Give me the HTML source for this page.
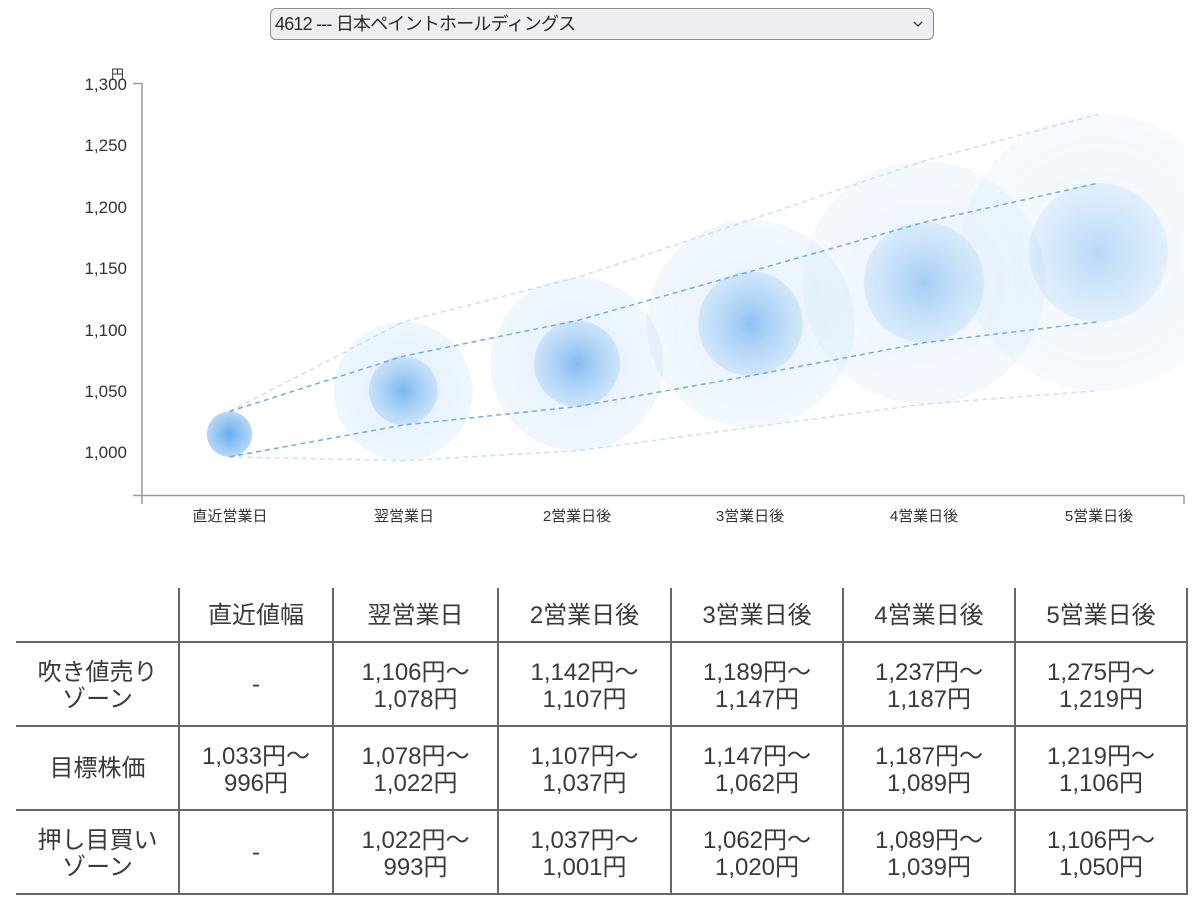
<!DOCTYPE html>
<html><head><meta charset="utf-8">
<style>
html,body{margin:0;padding:0;background:#fff;}
body{width:1200px;height:921px;position:relative;overflow:hidden;font-family:"Liberation Sans","Noto Sans CJK JP",sans-serif;color:#333;}
.sel{position:absolute;left:270px;top:8px;width:662px;height:30px;border:1px solid #8a8a8a;border-radius:6px;background:#efeff3;box-sizing:content-box;}
.sel span{position:absolute;left:4px;top:3px;font-size:18px;letter-spacing:-0.8px;line-height:24px;color:#2a2a2a;white-space:nowrap;}
.hl{position:absolute;left:16px;width:1172px;height:2px;background:#666;}
.vl{position:absolute;top:588px;width:2px;height:307px;background:#666;}
.c{position:absolute;text-align:center;font-size:24px;line-height:27px;color:#3a3a3a;white-space:nowrap;display:flex;align-items:center;justify-content:center;}
</style></head><body>
<div class="sel"><span>4612 --- 日本ペイントホールディングス</span>
<svg style="position:absolute;left:640px;top:10px" width="14" height="10"><polyline points="3,3 7,7 11,3" fill="none" stroke="#333" stroke-width="1.3"/></svg>
</div>

<svg style="position:absolute;left:0;top:0" width="1200" height="560" xmlns="http://www.w3.org/2000/svg">
<defs>
<radialGradient id="g0"><stop offset="0" stop-color="#62abef"/><stop offset="1" stop-color="#b2d5f6"/></radialGradient>
<radialGradient id="gi"><stop offset="0" stop-color="#5fa8ee" stop-opacity="0.8"/><stop offset="1" stop-color="#8cc2f4" stop-opacity="0.35"/></radialGradient>
<radialGradient id="go"><stop offset="0" stop-color="#9fcbf5" stop-opacity="0.32"/><stop offset="1" stop-color="#b5d8f8" stop-opacity="0.22"/></radialGradient>
<clipPath id="cp"><rect x="143" y="0" width="1041" height="495"/></clipPath>
</defs>
<g clip-path="url(#cp)">
<g opacity="1"><circle cx="403.3" cy="391.2" r="69.4" fill="url(#go)"/><circle cx="403.3" cy="390.6" r="34.4" fill="url(#gi)"/></g>
<g opacity="0.93"><circle cx="577" cy="364.2" r="86.6" fill="url(#go)"/><circle cx="577" cy="363.6" r="43" fill="url(#gi)"/></g>
<g opacity="0.84"><circle cx="750.5" cy="323.6" r="103.8" fill="url(#go)"/><circle cx="750.5" cy="323.6" r="52.2" fill="url(#gi)"/></g>
<g opacity="0.68"><circle cx="924" cy="282.5" r="121.6" fill="url(#go)"/><circle cx="924" cy="282.5" r="60.2" fill="url(#gi)"/></g>
<g opacity="0.52"><circle cx="1098.5" cy="252.4" r="138.2" fill="url(#go)"/><circle cx="1098.5" cy="252.4" r="69.4" fill="url(#gi)"/></g>
<circle cx="229.5" cy="434.2" r="22.7" fill="url(#g0)" opacity="0.95"/>
<g fill="none" stroke-width="1.5" stroke-dasharray="5 4">
<polyline stroke="#c6e0f8" points="229.5,411.5 403.3,321.8 577,277.6 750.5,219.9 924,160.9 1098.5,114.2"/>
<polyline stroke="#c6e0f8" points="229.5,456.9 403.3,460.6 577,450.8 750.5,427.4 924,404.1 1098.5,390.6"/>
<polyline stroke="#6eacf0" points="229.5,411.5 403.3,356.2 577,320.6 750.5,271.4 924,222.3 1098.5,183"/>
<polyline stroke="#6eacf0" points="229.5,456.9 403.3,425 577,406.6 750.5,375.8 924,342.7 1098.5,321.8"/>
</g>
</g>
<g stroke="#9a9a9a" stroke-width="1.5" fill="none">
<line x1="142" y1="83" x2="142" y2="504"/>
<line x1="133" y1="83.5" x2="142" y2="83.5"/>
<line x1="133" y1="495.5" x2="1184" y2="495.5"/>
<line x1="1184" y1="495.5" x2="1184" y2="504"/>
</g>
<g font-family="Liberation Sans, Noto Sans CJK JP, sans-serif" font-size="17" fill="#333" text-anchor="end">
<text x="127" y="458">1,000</text>
<text x="127" y="397">1,050</text>
<text x="127" y="336">1,100</text>
<text x="127" y="274">1,150</text>
<text x="127" y="213">1,200</text>
<text x="127" y="151">1,250</text>
<text x="127" y="90">1,300</text>
</g>
<text x="111" y="79" font-family="Noto Sans CJK JP, sans-serif" font-size="13" fill="#333">円</text>
<g font-family="Liberation Sans, Noto Sans CJK JP, sans-serif" font-size="15" fill="#333" text-anchor="middle">
<text x="230" y="521">直近営業日</text>
<text x="404" y="521">翌営業日</text>
<text x="577" y="521">2営業日後</text>
<text x="750" y="521">3営業日後</text>
<text x="924" y="521">4営業日後</text>
<text x="1099" y="521">5営業日後</text>
</g>
</svg>

<!-- table lines -->
<div class="hl" style="top:641px"></div>
<div class="hl" style="top:725px"></div>
<div class="hl" style="top:809px"></div>
<div class="hl" style="top:893px"></div>
<div class="vl" style="left:178px"></div>
<div class="vl" style="left:332px"></div>
<div class="vl" style="left:497px"></div>
<div class="vl" style="left:670px"></div>
<div class="vl" style="left:842px"></div>
<div class="vl" style="left:1014px"></div>
<div class="vl" style="left:1186px"></div>

<!-- header -->
<div class="c" style="left:179px;width:154px;top:588px;height:54px">直近値幅</div>
<div class="c" style="left:333px;width:165px;top:588px;height:54px">翌営業日</div>
<div class="c" style="left:498px;width:173px;top:588px;height:54px">2営業日後</div>
<div class="c" style="left:671px;width:172px;top:588px;height:54px">3営業日後</div>
<div class="c" style="left:843px;width:172px;top:588px;height:54px">4営業日後</div>
<div class="c" style="left:1015px;width:172px;top:588px;height:54px">5営業日後</div>

<!-- row 1 -->
<div class="c" style="left:16px;width:163px;top:644px;height:84px">吹き値売り<br>ゾーン</div>
<div class="c" style="left:179px;width:154px;top:642px;height:84px">-</div>
<div class="c" style="left:333px;width:165px;top:644px;height:84px">1,106円～<br>1,078円</div>
<div class="c" style="left:498px;width:173px;top:644px;height:84px">1,142円～<br>1,107円</div>
<div class="c" style="left:671px;width:172px;top:644px;height:84px">1,189円～<br>1,147円</div>
<div class="c" style="left:843px;width:172px;top:644px;height:84px">1,237円～<br>1,187円</div>
<div class="c" style="left:1015px;width:172px;top:644px;height:84px">1,275円～<br>1,219円</div>

<!-- row 2 -->
<div class="c" style="left:16px;width:163px;top:726px;height:84px">目標株価</div>
<div class="c" style="left:179px;width:154px;top:728px;height:84px">1,033円～<br>996円</div>
<div class="c" style="left:333px;width:165px;top:728px;height:84px">1,078円～<br>1,022円</div>
<div class="c" style="left:498px;width:173px;top:728px;height:84px">1,107円～<br>1,037円</div>
<div class="c" style="left:671px;width:172px;top:728px;height:84px">1,147円～<br>1,062円</div>
<div class="c" style="left:843px;width:172px;top:728px;height:84px">1,187円～<br>1,089円</div>
<div class="c" style="left:1015px;width:172px;top:728px;height:84px">1,219円～<br>1,106円</div>

<!-- row 3 -->
<div class="c" style="left:16px;width:163px;top:812px;height:84px">押し目買い<br>ゾーン</div>
<div class="c" style="left:179px;width:154px;top:810px;height:84px">-</div>
<div class="c" style="left:333px;width:165px;top:812px;height:84px">1,022円～<br>993円</div>
<div class="c" style="left:498px;width:173px;top:812px;height:84px">1,037円～<br>1,001円</div>
<div class="c" style="left:671px;width:172px;top:812px;height:84px">1,062円～<br>1,020円</div>
<div class="c" style="left:843px;width:172px;top:812px;height:84px">1,089円～<br>1,039円</div>
<div class="c" style="left:1015px;width:172px;top:812px;height:84px">1,106円～<br>1,050円</div>
</body></html>
